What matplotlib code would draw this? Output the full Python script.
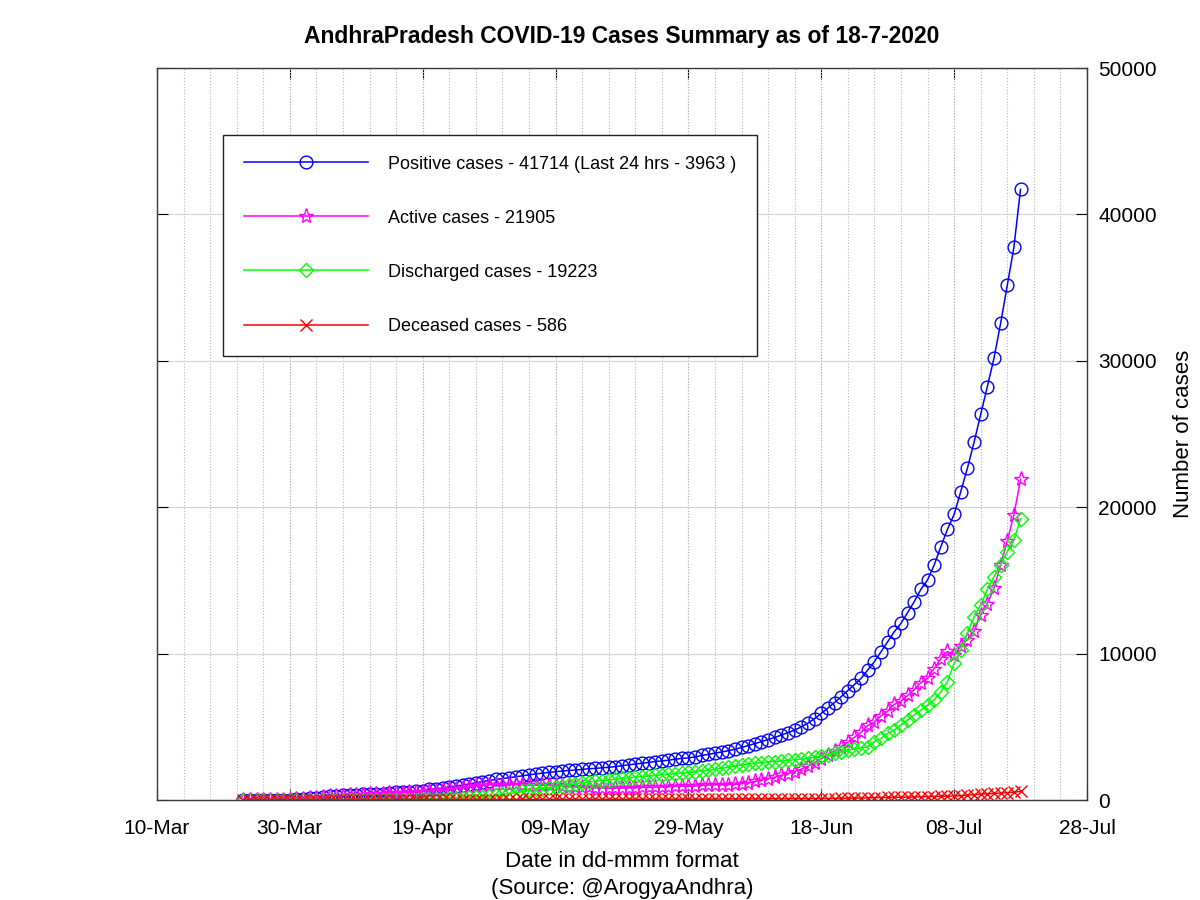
import numpy as np
import pandas as pd
import matplotlib
matplotlib.use('Agg')
import matplotlib.pyplot as plt
import matplotlib.dates as mdates

plt.rcParams['font.family'] = ['Liberation Sans', 'DejaVu Sans']

# daily values, 23-Mar-2020 .. 18-Jul-2020
dates = pd.date_range('2020-03-23', '2020-07-18', freq='D')

positive = [
    7, 8, 10, 11, 14, 19, 21, 23, 44,
    87, 132, 161, 192, 252, 266, 314, 348, 363, 381, 405, 420, 432, 483, 525,
    534, 572, 603, 647, 722, 757, 813, 893, 955, 1016, 1097, 1177, 1259, 1332, 1403,
    1463, 1525, 1583, 1650, 1717, 1777, 1833, 1887, 1930, 1980, 2018, 2051, 2090,
    2137, 2157, 2205, 2230, 2282, 2339, 2407, 2452, 2514, 2561, 2627, 2671, 2719,
    2787, 2841, 2874, 2944, 3042,
    3118, 3200, 3280, 3370, 3460, 3590, 3720, 3850, 3990, 4130, 4270, 4440, 4600,
    4780, 5000, 5250, 5560, 5920, 6280, 6660, 7060, 7480, 7890, 8310, 8880, 9450,
    10130, 10810, 11500, 12070,
    12800, 13550, 14390, 15030, 16050, 17300, 18490, 19510, 21060, 22660, 24430,
    26340, 28230, 30170, 32560, 35150, 37751, 41714]

active = [
    7, 8, 10, 11, 13, 18, 20, 22, 43,
    86, 130, 159, 188, 247, 261, 308, 342, 352, 366, 389, 402, 413, 460, 495,
    504, 534, 562, 570, 620, 646, 686, 728, 786, 821, 876, 926, 993, 1043, 1051,
    1027, 1043, 1061, 1025, 1007, 1011, 1015, 1017, 1001, 965, 922, 895, 874,
    860, 829, 827, 811, 813, 819, 837, 841, 861, 866, 892, 895, 903,
    930, 943, 935, 954, 1000,
    1024, 1036, 1042, 1059, 1067, 1115, 1193, 1272, 1360, 1458, 1556, 1684, 1802,
    1942, 2110, 2308, 2546, 2824, 3082, 3349, 3639, 3961, 4283, 4614, 5094, 5313,
    5751, 6080, 6533, 6757,
    7142, 7534, 8022, 8308, 8981, 9648, 10146, 9892, 10518, 10952, 11545,
    12612, 13420, 14468, 16040, 17698, 19457, 21905]

discharged = [
    0, 0, 0, 0, 1, 1, 1, 1, 1,
    1, 1, 1, 1, 2, 2, 2, 2, 6, 9, 10, 11, 12, 14, 16,
    16, 24, 26, 60, 82, 89, 103, 141, 145, 171, 192, 220, 235, 258, 321,
    403, 449, 488, 589, 674, 730, 780, 829, 887, 970, 1050, 1110, 1170,
    1230, 1280, 1330, 1370, 1420, 1470, 1520, 1560, 1600, 1640, 1680, 1720, 1760,
    1800, 1840, 1880, 1930, 1980,
    2030, 2100, 2170, 2240, 2320, 2400, 2450, 2500, 2550, 2590, 2630, 2670, 2710,
    2750, 2800, 2850, 2920, 3000, 3100, 3210, 3310, 3400, 3480, 3560, 3640, 3980,
    4210, 4550, 4780, 5120,
    5460, 5810, 6150, 6490, 6830, 7400, 8080, 9340, 10250, 11380, 12520,
    13320, 14390, 15250, 16050, 16960, 17760, 19223]

deceased = [
    0, 0, 0, 0, 0, 0, 0, 0, 0,
    0, 1, 1, 3, 3, 3, 4, 4, 5, 6, 6, 7, 7, 9, 14,
    14, 14, 15, 17, 20, 22, 24, 24, 24, 24, 29, 31, 31, 31, 31,
    33, 33, 34, 36, 36, 36, 38, 41, 42, 45, 46, 46, 46,
    47, 48, 48, 49, 49, 50, 50, 51, 53, 55, 55, 56, 56,
    57, 58, 59, 60, 62,
    64, 64, 68, 71, 73, 75, 77, 78, 80, 82, 84, 86, 88,
    88, 90, 92, 94, 96, 98, 101, 111, 119, 127, 136, 146, 157,
    169, 180, 187, 193,
    198, 206, 218, 232, 239, 252, 264, 278, 292, 328, 365,
    408, 420, 452, 470, 492, 534, 586]

labels = ['Positive cases - 41714 (Last 24 hrs - 3963 )',
          'Active cases - 21905',
          'Discharged cases - 19223',
          'Deceased cases - 586']

fig = plt.figure(figsize=(12, 9), dpi=100)
ax = fig.add_axes([0.1308, 0.1111, 0.775, 0.8133])

ax.plot(dates, positive, color='#0000ff', lw=1.1, marker='o', ms=9.2,
        mfc='none', mew=1.0, label=labels[0])
ax.plot(dates, active, color='#ff00ff', lw=1.1, marker='*', ms=11,
        mfc='none', mew=1.0, label=labels[1])
ax.plot(dates, discharged, color='#00ff00', lw=1.1, marker='D', ms=7.5,
        mfc='none', mew=1.0, label=labels[2])
ax.plot(dates, deceased, color='#ff0000', lw=1.1, marker='x', ms=8.5,
        mew=1.0, label=labels[3])

ax.set_xlim(pd.Timestamp('2020-03-10'), pd.Timestamp('2020-07-28'))
ax.set_xticks(pd.date_range('2020-03-10', '2020-07-28', freq='20D'))
ax.set_xticks(pd.date_range('2020-03-10', '2020-07-28', freq='4D'), minor=True)
ax.xaxis.set_major_formatter(mdates.DateFormatter('%d-%b'))
ax.xaxis.remove_overlapping_locs = False

ax.set_ylim(0, 50000)
ax.set_yticks(np.arange(0, 50001, 10000))

ax.grid(axis='x', which='both', color='#b4b4b4', ls=':', lw=0.8)
ax.grid(axis='y', which='major', color='#d4d4d4', ls='-', lw=0.8)
ax.set_axisbelow(True)

ax.tick_params(axis='both', which='major', direction='in', length=8,
               width=0.8, labelsize=15, top=True, bottom=True,
               left=True, right=True, labelleft=False, labelright=True)
ax.tick_params(axis='x', which='major', pad=14)
ax.tick_params(axis='y', which='major', pad=8)
ax.tick_params(which='minor', length=0)
for s in ax.spines.values():
    s.set_color('#3a3a3a')
    s.set_linewidth(1.0)

ax.yaxis.set_label_position('right')
ax.set_ylabel('Number of cases', fontsize=16, labelpad=12)
ax.set_xlabel('Date in dd-mmm format\n(Source: @ArogyaAndhra)', fontsize=16,
              labelpad=9, linespacing=1.4)
ax.set_title('AndhraPradesh COVID-19 Cases Summary as of 18-7-2020',
             fontsize=16.5, fontweight='bold', pad=18)

leg = ax.legend(loc='upper left', bbox_to_anchor=(0.071, 0.9085),
                fontsize=13, numpoints=1, handlelength=6.9, handletextpad=1.1,
                labelspacing=2.05, borderpad=1.15, borderaxespad=0,
                fancybox=False, framealpha=1, edgecolor='#222222')
leg.get_frame().set_linewidth(1.0)

fig.savefig('out.png', dpi=100)
